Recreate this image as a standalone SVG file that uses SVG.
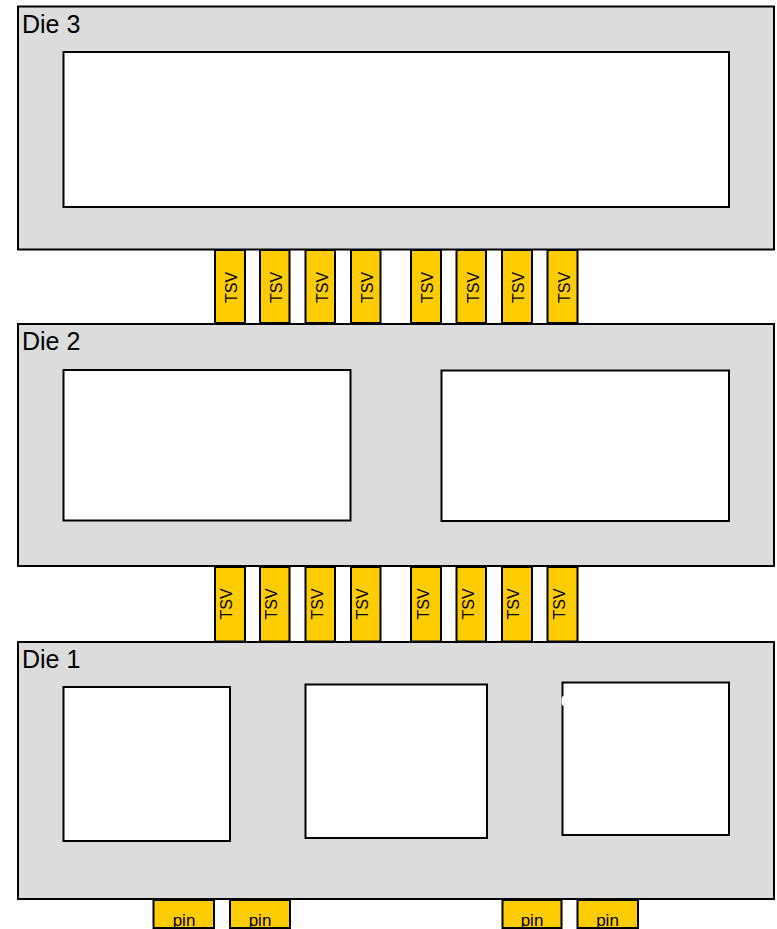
<svg xmlns="http://www.w3.org/2000/svg" width="777" height="929" viewBox="0 0 777 929">
<style>
.die{fill:#dcdcdc;stroke:#000;stroke-width:2}
.blk{fill:#fff;stroke:#000;stroke-width:2}
.tsv{fill:#ffcc00;stroke:#000;stroke-width:2}
.lbl{font-family:"Liberation Sans",Arial,sans-serif;font-size:25px;fill:#000}
.tt{font-family:"Liberation Sans",Arial,sans-serif;font-size:16px;fill:#000;text-anchor:middle}
.pt{font-family:"Liberation Sans",Arial,sans-serif;font-size:17px;fill:#000;text-anchor:middle}
</style>
<rect width="777" height="929" fill="#fff"/>
<g id="die3">
<rect class="die" x="18" y="6.5" width="756" height="243"/>
<rect class="blk" x="63.5" y="52" width="665.5" height="155"/>
<text class="lbl" x="22" y="33">Die 3</text>
</g>
<g id="tsv-upper">
<g id="tsv-u1"><rect class="tsv" x="215" y="250" width="30" height="73"/><text class="tt" transform="translate(237,287.5) rotate(-90)">TSV</text></g>
<g id="tsv-u2"><rect class="tsv" x="260" y="250" width="29.5" height="73"/><text class="tt" transform="translate(282,287.5) rotate(-90)">TSV</text></g>
<g id="tsv-u3"><rect class="tsv" x="305.5" y="250" width="29.5" height="73"/><text class="tt" transform="translate(327.5,287.5) rotate(-90)">TSV</text></g>
<g id="tsv-u4"><rect class="tsv" x="351" y="250" width="29.5" height="73"/><text class="tt" transform="translate(373,287.5) rotate(-90)">TSV</text></g>
<g id="tsv-u5"><rect class="tsv" x="411" y="250" width="30" height="73"/><text class="tt" transform="translate(433,287.5) rotate(-90)">TSV</text></g>
<g id="tsv-u6"><rect class="tsv" x="456.5" y="250" width="29.5" height="73"/><text class="tt" transform="translate(478.5,287.5) rotate(-90)">TSV</text></g>
<g id="tsv-u7"><rect class="tsv" x="502" y="250" width="30" height="73"/><text class="tt" transform="translate(524,287.5) rotate(-90)">TSV</text></g>
<g id="tsv-u8"><rect class="tsv" x="547.5" y="250" width="30" height="73"/><text class="tt" transform="translate(569.5,287.5) rotate(-90)">TSV</text></g>
</g>
<g id="die2">
<rect class="die" x="18" y="324" width="756" height="242"/>
<rect class="blk" x="63.5" y="370" width="287" height="150.5"/>
<rect class="blk" x="441.5" y="370.5" width="287.5" height="150.5"/>
<text class="lbl" x="22" y="350">Die 2</text>
</g>
<g id="tsv-lower">
<g id="tsv-l1"><rect class="tsv" x="215" y="567" width="30" height="74.5"/><text class="tt" transform="translate(232,604) rotate(-90)">TSV</text></g>
<g id="tsv-l2"><rect class="tsv" x="260" y="567" width="29.5" height="74.5"/><text class="tt" transform="translate(277,604) rotate(-90)">TSV</text></g>
<g id="tsv-l3"><rect class="tsv" x="305.5" y="567" width="29.5" height="74.5"/><text class="tt" transform="translate(322.5,604) rotate(-90)">TSV</text></g>
<g id="tsv-l4"><rect class="tsv" x="351" y="567" width="29.5" height="74.5"/><text class="tt" transform="translate(368,604) rotate(-90)">TSV</text></g>
<g id="tsv-l5"><rect class="tsv" x="411" y="567" width="30" height="74.5"/><text class="tt" transform="translate(428.5,604) rotate(-90)">TSV</text></g>
<g id="tsv-l6"><rect class="tsv" x="456.5" y="567" width="29.5" height="74.5"/><text class="tt" transform="translate(473.5,604) rotate(-90)">TSV</text></g>
<g id="tsv-l7"><rect class="tsv" x="502" y="567" width="30" height="74.5"/><text class="tt" transform="translate(519,604) rotate(-90)">TSV</text></g>
<g id="tsv-l8"><rect class="tsv" x="547.5" y="567" width="30" height="74.5"/><text class="tt" transform="translate(564.5,604) rotate(-90)">TSV</text></g>
</g>
<g id="die1">
<rect class="die" x="18" y="642" width="756" height="257"/>
<rect class="blk" x="63.5" y="687" width="166.5" height="154"/>
<rect class="blk" x="305.5" y="684.5" width="181.5" height="153.5"/>
<rect class="blk" x="562.5" y="682.5" width="166.5" height="152.5"/>
<ellipse cx="563.5" cy="701" rx="2" ry="5" fill="#fff"/>
<text class="lbl" x="22" y="668">Die 1</text>
</g>
<g id="pins">
<g id="pin1"><rect class="tsv" x="153.5" y="900" width="60.5" height="28"/><text class="pt" x="184" y="926">pin</text></g>
<g id="pin2"><rect class="tsv" x="230" y="900" width="60" height="28"/><text class="pt" x="260" y="926">pin</text></g>
<g id="pin3"><rect class="tsv" x="502.5" y="900" width="59" height="28"/><text class="pt" x="532" y="926">pin</text></g>
<g id="pin4"><rect class="tsv" x="577.5" y="900" width="60.5" height="28"/><text class="pt" x="607.5" y="926">pin</text></g>
</g>
</svg>
